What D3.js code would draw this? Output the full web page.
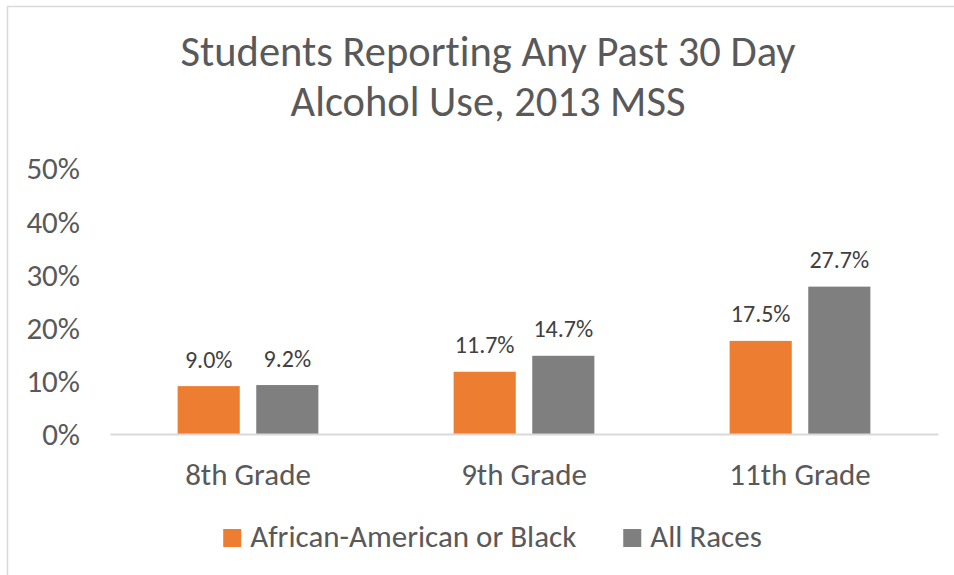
<!DOCTYPE html>
<html>
<head>
<meta charset="utf-8">
<script src="https://cdn.jsdelivr.net/npm/d3@7"></script>
<style>
  html, body { margin: 0; padding: 0; background: #fff; }
  svg { display: block; font-family: Carlito, Calibri, Lato, sans-serif; font-variant-ligatures: none; }
</style>
</head>
<body>
<svg id="chart" width="954" height="575"></svg>
<script>
const categories = ["8th Grade", "9th Grade", "11th Grade"];
const seriesNames = ["African-American or Black", "All Races"];
const seriesColors = ["#ED7D31", "#7F7F7F"];
const africanAmerican = [0.090, 0.117, 0.175];
const allRaces = [0.092, 0.147, 0.277];
const yTicks = [0, 0.1, 0.2, 0.3, 0.4, 0.5];
const titleLines = ["Students Reporting Any Past 30 Day", "Alcohol Use, 2013 MSS"];

(function () {
const seriesValues = [africanAmerican, allRaces];
const data = categories.map((c, i) => ({
  category: c,
  values: seriesNames.map((s, j) => ({ series: s, color: seriesColors[j], value: seriesValues[j][i] }))
}));

const svg = d3.select("#chart");
const textColor = "#595959";
const fontStack = "Carlito, Calibri, Lato, sans-serif";

// chart border
svg.append("rect")
  .attr("x", 7.5).attr("y", 6.5)
  .attr("width", 960).attr("height", 580)
  .attr("fill", "#fff").attr("stroke", "#d9d9d9").attr("stroke-width", 1.5);

// title
svg.append("g").selectAll("text").data(titleLines).join("text")
  .attr("x", 488).attr("y", (d, i) => 66 + i * 49.5)
  .attr("text-anchor", "middle")
  .attr("fill", textColor)
  .style("font-size", "42.5px")
  .text(d => d);

const plotLeft = 110, plotRight = 938, plotTop = 168, plotBottom = 434;

const x0 = d3.scaleBand().domain(categories).range([plotLeft, plotRight]).paddingInner(0).paddingOuter(0);
const bw = x0.bandwidth();
const x1 = d3.scaleBand().domain(seriesNames).range([bw * 0.245, bw * 0.755]).paddingInner(0.21);
const y = d3.scaleLinear().domain([0, 0.5]).range([plotBottom, plotTop]);

// y axis labels
const yAxis = d3.axisLeft(y).tickValues(yTicks).tickFormat(d3.format(".0%")).tickSize(0).tickPadding(0);
const gy = svg.append("g").attr("transform", `translate(80,0)`).call(yAxis)
  .attr("font-family", fontStack).attr("font-size", null);
gy.select(".domain").remove();
gy.selectAll("text").attr("fill", textColor).style("font-size", "31px").attr("dy", "0.35em");

// bars
const groups = svg.append("g").selectAll("g").data(data).join("g")
  .attr("transform", d => `translate(${x0(d.category)},0)`);

groups.selectAll("rect").data(d => d.values).join("rect")
  .attr("x", d => x1(d.series))
  .attr("width", x1.bandwidth())
  .attr("y", d => y(d.value))
  .attr("height", d => y(0) - y(d.value))
  .attr("fill", d => d.color);

groups.selectAll("text").data(d => d.values).join("text")
  .attr("x", d => x1(d.series) + x1.bandwidth() / 2)
  .attr("y", d => y(d.value) - 18.5)
  .attr("text-anchor", "middle")
  .attr("fill", "#404040")
  .style("font-size", "24px")
  .text(d => d3.format(".1%")(d.value));

// x axis
const xAxis = d3.axisBottom(x0).tickSize(0).tickPadding(0);
const gx = svg.append("g").attr("transform", `translate(0,${plotBottom})`).call(xAxis)
  .attr("font-family", fontStack).attr("font-size", null);
gx.select(".domain").attr("stroke", "#d9d9d9").attr("stroke-width", 2);
gx.selectAll("text").attr("fill", textColor).style("font-size", "31px")
  .attr("y", 51).attr("dy", null);

// legend
const legend = svg.append("g");
const items = legend.selectAll("g").data(seriesNames).join("g");
items.append("rect").attr("width", 18).attr("height", 18).attr("y", 529)
  .attr("fill", (d, i) => seriesColors[i]);
items.append("text").attr("x", 27).attr("y", 547)
  .attr("fill", textColor).style("font-size", "31px").text(d => d);
let widths = [];
items.each(function () { widths.push(27 + d3.select(this).select("text").node().getComputedTextLength()); });
const gap = 47;
const total = d3.sum(widths) + gap * (widths.length - 1);
let cx = 492.5 - total / 2;
items.each(function (d, i) {
  d3.select(this).attr("transform", `translate(${cx},0)`);
  cx += widths[i] + gap;
});
})();
</script>
</body>
</html>
